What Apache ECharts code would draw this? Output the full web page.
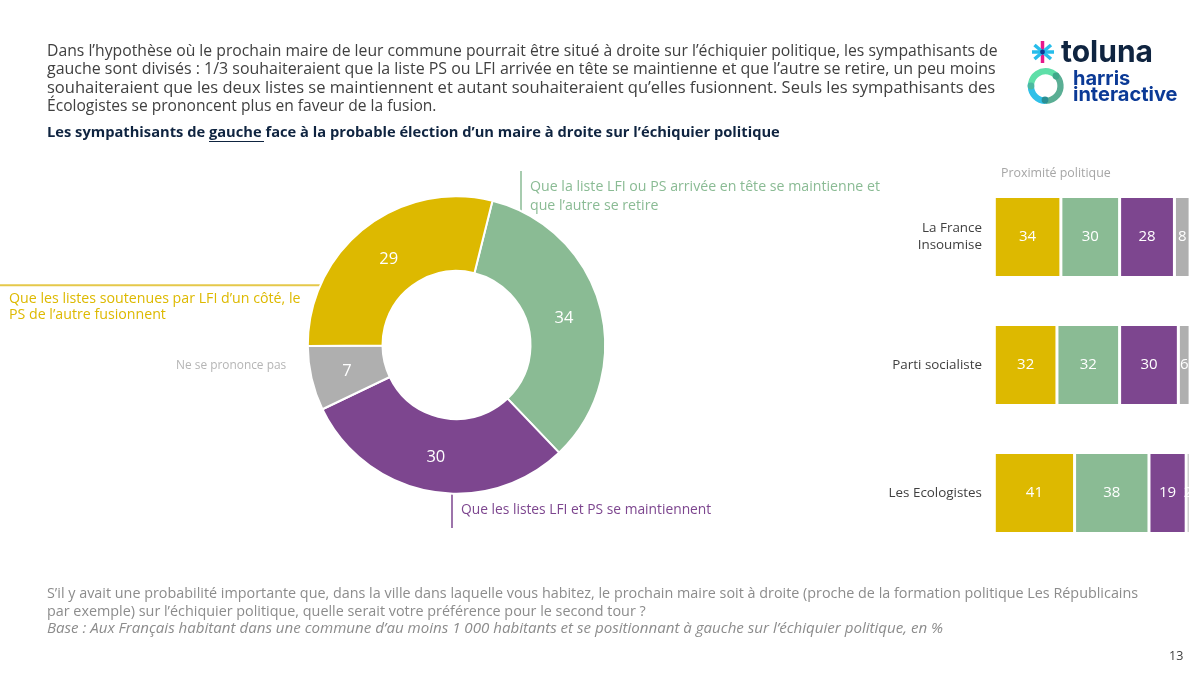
<!DOCTYPE html>
<html><head><meta charset="utf-8">
<script src="https://cdn.jsdelivr.net/npm/echarts@6/dist/echarts.min.js"></script>
<style>html,body{margin:0;padding:0;background:#fff}#c{width:1200px;height:675px}</style>
</head><body><div id="c"></div>
<script>
const FONT='"Open Sans"';
const pieNames=['Que la liste LFI ou PS arrivée en tête se maintienne et que l’autre se retire','Que les listes LFI et PS se maintiennent','Ne se prononce pas','Que les listes soutenues par LFI d’un côté, le PS de l’autre fusionnent'];
const pieValues=[34,30,7,29];
const colors=['#8ABB94','#7D468F','#AFAFAF','#DDB900'];
const pieLabelShift=[[-3,3],[0,0],[2,1],[3,4]];
const barCategories=['La France\nInsoumise','Parti socialiste','Les Ecologistes'];
const barYellow=[34,32,41];
const barGreen=[30,32,38];
const barPurple=[28,30,19];
const barGray=[8,6,2];
const introLines=[
'Dans l’hypothèse où le prochain maire de leur commune pourrait être situé à droite sur l’échiquier politique, les sympathisants de',
'gauche sont divisés : 1/3 souhaiteraient que la liste PS ou LFI arrivée en tête se maintienne et que l’autre se retire, un peu moins',
'souhaiteraient que les deux listes se maintiennent et autant souhaiteraient qu’elles fusionnent. Seuls les sympathisants des',
'Écologistes se prononcent plus en faveur de la fusion.'];
const introSizes=[15.74,15.96,16.5,15.6];
const footLines=[
'S’il y avait une probabilité importante que, dans la ville dans laquelle vous habitez, le prochain maire soit à droite (proche de la formation politique Les Républicains',
'par exemple) sur l’échiquier politique, quelle serait votre préférence pour le second tour ?'];
const baseLine='Base : Aux Français habitant dans une commune d’au moins 1 000 habitants et se positionnant à gauche sur l’échiquier politique, en %';
const T=(x,y,text,size,fill,extra)=>({type:'text',x,y,silent:true,style:Object.assign({text,fontSize:size,fill,fontFamily:FONT,textVerticalAlign:'middle',lineHeight:size*1.3},extra||{})});
const L=(x1,y1,x2,y2,stroke,w)=>({type:'line',silent:true,z:0,shape:{x1,y1,x2,y2},style:{stroke,lineWidth:w||1.5}});
const arc=(a,b,c)=>({type:'arc',silent:true,shape:{cx:1045.7,cy:86,r:14.8,startAngle:a*Math.PI/180,endAngle:b*Math.PI/180},style:{stroke:c,lineWidth:6.3,fill:'none'}});
const dot=(cx,cy,r,c)=>({type:'circle',silent:true,shape:{cx,cy,r},style:{fill:c}});
const graphics=[
 ...introLines.map((t,i)=>T(47,51.5+i*18.2,t,introSizes[i],'#404040')),
 T(47,133,'Les sympathisants de gauche face à la probable élection d’un maire à droite sur l’échiquier politique',14.7,'#0F2440',{fontWeight:'bold'}),
 L(209,141.5,264,141.5,'#0F2440',1),
 L(0,285.3,322,285.3,'#E5C84A',2),
 L(521,171,521,214,'#8ABB94',1.5),
 L(452,490,452,528,'#7D468F',1.5),
 T(530,186.5,'Que la liste LFI ou PS arrivée en tête se maintienne et',14.16,'#8ABB94'),
 T(530,205.5,'que l’autre se retire',14.16,'#8ABB94'),
 T(9,299,'Que les listes soutenues par LFI d’un côté, le',14.2,'#DDB900'),
 T(9,315,'PS de l’autre fusionnent',14.2,'#DDB900'),
 T(176,365.5,'Ne se prononce pas',11.9,'#B5B5B5'),
 T(461,510,'Que les listes LFI et PS se maintiennent',13.8,'#7D468F'),
 T(1001,173,'Proximité politique',12.4,'#A6A6A6'),
 ...footLines.map((t,i)=>T(47,594+i*18,t,14.36,'#8C8C8C')),
 T(47,629,baseLine,15.1,'#8C8C8C',{fontStyle:'italic'}),
 T(1169,656,'13',12.5,'#404040'),
 // logo
 L(1042.5,41,1042.5,63,'#E6188C',3.5),
 L(1032,52,1054,52,'#27BDEB',3.5),
 L(1034.5,45,1051,59,'#27BDEB',3.5),
 L(1051,45,1034.5,59,'#27BDEB',3.5),
 dot(1042.5,52,2.4,'#0B3A96'),
 T(1061,53,'toluna',30,'#0F2440',{fontWeight:'bold',fontFamily:'"Inter"'}),
 arc(190,310,'#5EDFA8'),arc(-50,90,'#5AAE94'),arc(90,190,'#30C0E8'),
 dot(1056,76,3.4,'#3FA98A'),dot(1031,86,3.4,'#4DB9A0'),dot(1045,100,3.4,'#2A8F94'),
 T(1073,79,'harris',20,'#0B3A96',{fontWeight:'bold',fontFamily:'"Inter"'}),
 T(1073,95,'interactive',20,'#0B3A96',{fontWeight:'bold',fontFamily:'"Inter"'}),
];
const barSeries=[barYellow,barGreen,barPurple,barGray].map((d,i)=>({
 type:'bar',stack:'a',barWidth:81,data:d,
 itemStyle:{color:['#DDB900','#8ABB94','#7D468F','#AFAFAF'][i],borderColor:'#fff',borderWidth:1.5},
 label:{show:true,position:'inside',color:'#fff',fontFamily:FONT,fontSize:15}
}));
const chart=echarts.init(document.getElementById('c'),null,{renderer:'canvas'});
chart.setOption({
 animation:false,backgroundColor:'#fff',
 grid:{left:994.3,top:173,width:195.8,height:384},
 xAxis:{type:'value',min:0,max:100,show:false},
 yAxis:{type:'category',inverse:true,data:barCategories,axisLine:{show:false},axisTick:{show:false},
   axisLabel:{margin:12.3,color:'#404040',fontFamily:FONT,fontSize:13.4,lineHeight:17,align:'right'}},
 series:[
  {type:'pie',z:3,center:[456.5,345],radius:[74,148.7],startAngle:76,clockwise:true,
   data:pieNames.map((name,i)=>({name,value:pieValues[i],itemStyle:{color:colors[i]},label:{offset:pieLabelShift[i]}})),
   itemStyle:{borderColor:'#fff',borderWidth:2},
   label:{show:true,position:'inside',formatter:'{c}',color:'#fff',fontFamily:FONT,fontSize:16.5},
   labelLine:{show:false},emphasis:{disabled:true}},
  ...barSeries],
 graphic:{elements:graphics}
});
</script></body></html>
